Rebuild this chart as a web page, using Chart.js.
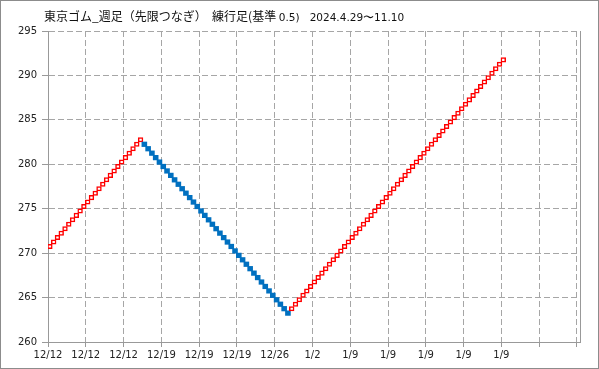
<!DOCTYPE html>
<html>
<head>
<meta charset="utf-8">
<script src="https://cdn.jsdelivr.net/npm/chart.js@4/dist/chart.umd.min.js"></script>
<style>
  body { margin: 0; background: #fff; }
  #wrap { position: relative; width: 599px; height: 369px; }
  #frame { position: absolute; left: 0; top: 0; width: 599px; height: 369px; box-sizing: border-box; border: 1px solid #8c8c8c; pointer-events: none; }
  #title { position: absolute; left: 44px; top: 8px; font-family: "Noto Sans CJK JP", sans-serif; font-size: 12px; line-height: 16px; color: #111; white-space: pre; }
  #title .d { font-family: "DejaVu Sans", sans-serif; font-size: 10.5px; }
</style>
</head>
<body>
<div id="wrap">
  <canvas id="renko" width="599" height="369"></canvas>
  <div id="title">東京ゴム_週足（先限つなぎ）  練行足(基準 <span class="d">0.5)   2024.4.29〜11.10</span></div>
  <div id="frame"></div>
</div>
<script>
// 練行足 box bottoms, left to right (box size 0.5)
const boxSize = 0.5
const boxLow = [
    270.5, 271, 271.5, 272, 272.5, 273, 273.5, 274, 274.5, 275, 275.5, 276, 276.5,
    277, 277.5, 278, 278.5, 279, 279.5, 280, 280.5, 281, 281.5, 282, 282.5,
    282, 281.5, 281, 280.5, 280, 279.5, 279, 278.5, 278, 277.5, 277, 276.5, 276,
    275.5, 275, 274.5, 274, 273.5, 273, 272.5, 272, 271.5, 271, 270.5, 270, 269.5,
    269, 268.5, 268, 267.5, 267, 266.5, 266, 265.5, 265, 264.5, 264, 263.5, 263,
    263.5, 264, 264.5, 265, 265.5, 266, 266.5, 267, 267.5, 268, 268.5, 269, 269.5,
    270, 270.5, 271, 271.5, 272, 272.5, 273, 273.5, 274, 274.5, 275, 275.5, 276,
    276.5, 277, 277.5, 278, 278.5, 279, 279.5, 280, 280.5, 281, 281.5, 282, 282.5,
    283, 283.5, 284, 284.5, 285, 285.5, 286, 286.5, 287, 287.5, 288, 288.5, 289,
    289.5, 290, 290.5, 291, 291.5
]
// labels every 10 boxes
const xLabels = ['12/12', '12/12', '12/12', '12/19', '12/19', '12/19', '12/26', '1/2', '1/9', '1/9', '1/9', '1/9', '1/9', '', '']
const yTicks = [260, 265, 270, 275, 280, 285, 290, 295]

const upColor = '#ff0000'
const downColor = '#0070c0'
const gridColor = '#a6a6a6'
const axisColor = '#999999'

document.addEventListener('DOMContentLoaded', function(){
    const isDown = boxLow.map((v, i) => i > 0 && v < boxLow[i - 1])
    const boxes = boxLow.map((v, i) => ({x: i + 0.5, y: [v, v + boxSize]}))
    const tickFont = {family: 'DejaVu Sans', size: 10}

    new Chart(document.getElementById('renko').getContext('2d'), {
        type: 'bar',
        data: {
            datasets: [{
                data: boxes,
                backgroundColor: ctx => isDown[ctx.dataIndex] ? downColor : '#ffffff',
                borderColor: ctx => isDown[ctx.dataIndex] ? downColor : upColor,
                borderWidth: ctx => isDown[ctx.dataIndex] ? 0 : 1.5,
                inflateAmount: ctx => isDown[ctx.dataIndex] ? 0.4 : 0.3,
                borderSkipped: false,
                barThickness: 4.8,
            }]
        },
        options: {
            responsive: false,
            animation: false,
            events: [],
            layout: {padding: {top: 31, right: 19, left: 0, bottom: 0}},
            plugins: {legend: {display: false}, tooltip: {enabled: false}},
            scales: {
                x: {
                    type: 'linear',
                    offset: false,
                    min: 0,
                    max: 140.8,
                    afterFit: s => { s.height = 27 },
                    ticks: {
                        stepSize: 10,
                        includeBounds: false,
                        autoSkip: false,
                        maxRotation: 0,
                        padding: 2,
                        color: '#222',
                        font: tickFont,
                        callback: v => xLabels[Math.round(v / 10)] ?? ''
                    },
                    grid: {offset: false, color: gridColor, tickColor: axisColor, tickLength: 5, tickBorderDash: []},
                    border: {color: axisColor, dash: [6, 3]}
                },
                y: {
                    min: yTicks[0],
                    max: yTicks[yTicks.length - 1],
                    afterFit: s => { s.width = 48 },
                    ticks: {stepSize: 5, padding: 5, color: '#222', font: tickFont},
                    grid: {color: gridColor, tickColor: axisColor, tickLength: 6, tickBorderDash: []},
                    border: {color: axisColor, dash: [6, 3]}
                },
                yRight: {
                    position: 'right',
                    min: yTicks[0],
                    max: yTicks[yTicks.length - 1],
                    afterFit: s => { s.width = 0 },
                    ticks: {display: false},
                    grid: {display: false},
                    border: {color: axisColor}
                }
            }
        }
    })
});
</script>
</body>
</html>
